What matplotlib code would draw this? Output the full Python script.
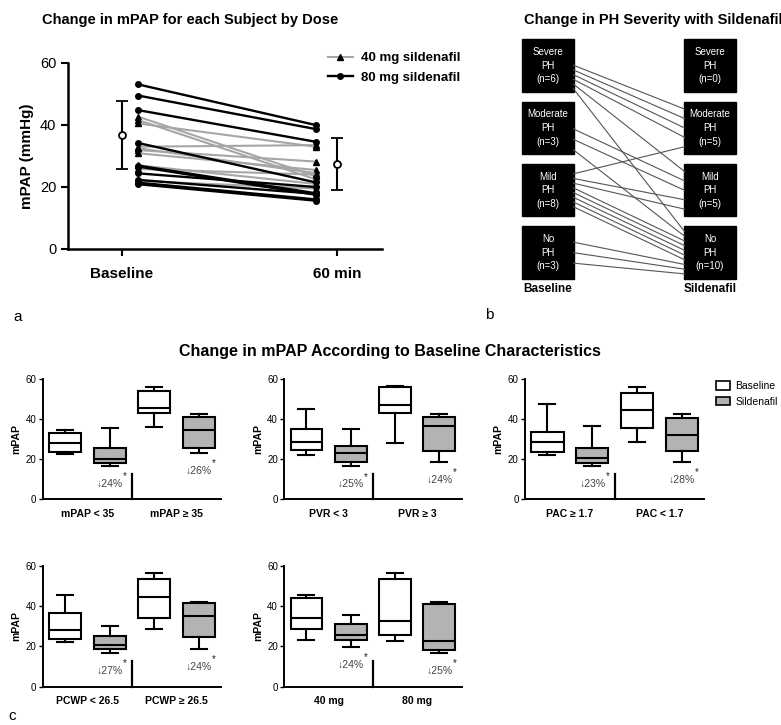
import matplotlib
matplotlib.use('Agg')
import matplotlib.pyplot as plt
import numpy as np
from matplotlib.patches import Rectangle, Patch
from matplotlib.lines import Line2D

plt.rcParams['font.family'] = ['Liberation Sans', 'DejaVu Sans']

W, H = 781, 725

# --- panel a: individual subjects, baseline -> 60 min ---
TIMEPOINTS = ['Baseline', '60 min']
DOSE80_BASE = [53.1, 49.5, 44.8, 34.2, 26.9, 26.6, 24.4, 22.3, 21.4, 20.9]
DOSE80_POST = [40.0, 38.7, 34.6, 21.5, 18.0, 17.5, 20.0, 17.8, 16.0, 15.6]
DOSE40_BASE = [42.7, 41.6, 40.5, 33.0, 31.9, 30.9, 32.5, 25.8, 22.0, 27.0]
DOSE40_POST = [23.5, 22.5, 33.0, 33.5, 28.2, 25.5, 24.5, 24.0, 19.5, 21.0]
GROUP_MEAN = [36.8, 27.4]
GROUP_SD = [11.1, 8.4]

# --- panel b: PH severity transitions ---
SEVERITY = ['Severe', 'Moderate', 'Mild', 'No']
N_BASE = [6, 3, 8, 3]
N_SILD = [0, 5, 5, 10]
TRANS_FROM = ['Severe', 'Severe', 'Severe', 'Moderate', 'Moderate', 'Mild', 'Mild', 'Mild', 'No']
TRANS_TO = ['Moderate', 'Mild', 'No', 'Mild', 'No', 'Moderate', 'Mild', 'No', 'No']
TRANS_N = [4, 1, 1, 2, 1, 1, 2, 5, 3]

# --- panel c: box plots (order: base g1, sild g1, base g2, sild g2) ---
GROUP_LABELS = [['mPAP < 35', 'mPAP ≥ 35'], ['PVR < 3', 'PVR ≥ 3'], ['PAC ≥ 1.7', 'PAC < 1.7'],
                ['PCWP < 26.5', 'PCWP ≥ 26.5'], ['40 mg', '80 mg']]
BOX_WHISLO = [[22.5, 16.7, 36.3, 23.3], [22.0, 16.5, 28.0, 18.8], [22.2, 16.7, 28.5, 18.7],
              [22.3, 17.0, 28.5, 18.8], [23.3, 19.7, 22.5, 17.0]]
BOX_Q1 = [[23.8, 18.3, 43.0, 25.8], [24.7, 18.8, 43.3, 24.2], [23.5, 18.3, 35.8, 24.2],
          [23.7, 18.7, 34.0, 24.8], [28.5, 23.3, 25.5, 18.3]]
BOX_MED = [[28.3, 20.3, 45.5, 34.7], [28.7, 23.0, 47.2, 36.7], [28.5, 20.8, 44.5, 32.2],
           [28.3, 20.7, 44.5, 35.0], [34.3, 25.7, 32.5, 22.5]]
BOX_Q3 = [[33.1, 25.5, 54.2, 41.0], [35.2, 26.5, 56.0, 41.3], [33.5, 25.5, 53.3, 40.8],
          [36.7, 25.0, 53.3, 41.7], [44.0, 31.3, 53.3, 41.2]]
BOX_WHISHI = [[34.6, 35.5, 56.3, 42.5], [45.0, 35.2, 56.7, 42.5], [47.5, 36.8, 56.3, 42.5],
              [45.7, 30.0, 56.3, 42.3], [45.7, 35.5, 56.3, 42.3]]
PCT_DROP = [[24, 26], [25, 24], [23, 28], [27, 24], [24, 25]]


def rect(l, t, r, b):
    return [l / W, 1 - b / H, (r - l) / W, (b - t) / H]


fig = plt.figure(figsize=(W / 100, H / 100), dpi=100)

# ================= panel a =================
ax = fig.add_axes(rect(68, 63, 382, 249))
xl = [0.075, 0.9]
for b, p in zip(DOSE40_BASE, DOSE40_POST):
    ax.plot(xl, [b, p], color='#a6a6a6', lw=1.5, marker='^', ms=4, mfc='black', mec='black', zorder=2)
for b, p in zip(DOSE80_BASE, DOSE80_POST):
    ax.plot(xl, [b, p], color='black', lw=1.7, marker='o', ms=4, zorder=3)
ax.errorbar([0, 1], GROUP_MEAN, yerr=GROUP_SD, fmt='o', color='black', mfc='white', mec='black',
            ms=5, mew=1.3, capsize=4, elinewidth=1.5, capthick=1.5, zorder=4)
ax.set_xlim(-0.251, 1.209)
ax.set_ylim(0, 60)
ax.set_xticks([0, 1], TIMEPOINTS, fontsize=11, fontweight='bold')
ax.set_yticks([0, 20, 40, 60])
ax.tick_params(axis='y', labelsize=10.5, width=1.5, length=5)
ax.tick_params(axis='x', width=1.5, length=5, pad=8)
ax.set_ylabel('mPAP (mmHg)', fontsize=11, fontweight='bold', labelpad=4)
for s in ['top', 'right']:
    ax.spines[s].set_visible(False)
for s in ['left', 'bottom']:
    ax.spines[s].set_linewidth(1.8)

hdl = [Line2D([], [], color='#a6a6a6', lw=1.5, marker='^', ms=4, mfc='black', mec='black'),
       Line2D([], [], color='black', lw=1.7, marker='o', ms=4)]
fig.legend(hdl, ['40 mg sildenafil', '80 mg sildenafil'], loc='center left',
           bbox_to_anchor=(316 / W, 1 - 68 / H), frameon=False, handlelength=1.9,
           handletextpad=0.6, labelspacing=0.55, prop={'weight': 'bold', 'size': 9.5})

fig.text(190 / W, 1 - 20 / H, 'Change in mPAP for each Subject by Dose', ha='center', va='center',
         fontsize=10.5, fontweight='bold')
fig.text(13 / W, 1 - 317 / H, 'a', fontsize=11, va='center')

# ================= panel b =================
axb = fig.add_axes(rect(499.4, 28.1, 758.6, 290.1))
axb.set_xlim(-0.3, 1.3)
axb.set_ylim(3.6, -0.6)
axb.axis('off')
bw, bh = 0.315, 0.84
for col, counts in enumerate([N_BASE, N_SILD]):
    for r, (name, n) in enumerate(zip(SEVERITY, counts)):
        axb.add_patch(Rectangle((col - bw / 2, r - bh / 2), bw, bh, color='black'))
        axb.text(col, r, f'{name}\nPH\n(n={n})', color='white', ha='center', va='center',
                 fontsize=7, linespacing=1.45)
axb.text(0, 3.58, 'Baseline', ha='center', va='center', fontsize=8.5, fontweight='bold')
axb.text(1, 3.58, 'Sildenafil', ha='center', va='center', fontsize=8.5, fontweight='bold')

# expand transitions into individual lines
idx = {s: i for i, s in enumerate(SEVERITY)}
links = []
for f, t, n in zip(TRANS_FROM, TRANS_TO, TRANS_N):
    links += [(idx[f], idx[t])] * n
exit_y, arr_y = {}, {}
for r in range(4):
    mine = sorted([k for k, l in enumerate(links) if l[0] == r], key=lambda k: links[k][1])
    n = len(mine)
    step = 0.09 if n > 3 else 0.2
    shift = 0.22 if r in (0, 1) else 0.0
    for j, k in enumerate(mine):
        exit_y[k] = r + shift * bh + (j - (n - 1) / 2) * step * bh
for r in range(4):
    mine = sorted([k for k, l in enumerate(links) if l[1] == r], key=lambda k: (links[k][0], exit_y[k]))
    n = len(mine)
    step = min(0.18, 0.9 / max(n, 1))
    for j, k in enumerate(mine):
        arr_y[k] = r + (j - (n - 1) / 2) * step * bh
for k in range(len(links)):
    axb.plot([bw / 2, 1 - bw / 2], [exit_y[k], arr_y[k]], color='#555555', lw=0.8)

fig.text(524 / W, 1 - 20 / H, 'Change in PH Severity with Sildenafil', ha='left', va='center',
         fontsize=10.5, fontweight='bold')
fig.text(485 / W, 1 - 315 / H, 'b', fontsize=11, va='center')

# ================= panel c =================
fig.text(390 / W, 1 - 352 / H, 'Change in mPAP According to Baseline Characteristics',
         ha='center', va='center', fontsize=11.5, fontweight='bold')
fig.text(8 / W, 1 - 716 / H, 'c', fontsize=11, va='center')

panel_rects = [rect(42.7, 379.3, 221, 499.3), rect(284.3, 379.3, 461.5, 499.3),
               rect(525, 379.3, 704.3, 499.3), rect(42.7, 566, 221, 686.7),
               rect(284.3, 566, 461.5, 686.7)]
fills = ['white', '#b3b3b3', 'white', '#b3b3b3']
for i, rc in enumerate(panel_rects):
    axc = fig.add_axes(rc)
    stats = [dict(whislo=BOX_WHISLO[i][j], q1=BOX_Q1[i][j], med=BOX_MED[i][j],
                  q3=BOX_Q3[i][j], whishi=BOX_WHISHI[i][j]) for j in range(4)]
    bp = axc.bxp(stats, positions=[1, 2, 3, 4], widths=0.72, showfliers=False, patch_artist=True,
                 boxprops=dict(lw=1.5, edgecolor='black'), medianprops=dict(color='black', lw=1.5),
                 whiskerprops=dict(lw=1.5), capprops=dict(lw=1.5))
    for patch, fc in zip(bp['boxes'], fills):
        patch.set_facecolor(fc)
    axc.plot([2.5, 2.5], [0, 12.6], color='black', lw=1.6, clip_on=False)
    for g, pos in enumerate([2, 4]):
        y = BOX_WHISLO[i][pos - 1] - 9
        axc.text(pos, y, f'↓{PCT_DROP[i][g]}%', ha='center', va='center', fontsize=7.5, color='#444444')
        axc.text(pos + 0.34, y + 3.8, '*', ha='center', va='center', fontsize=7, color='#222222')
    axc.set_xlim(0.5, 4.5)
    axc.set_ylim(0, 60)
    axc.set_yticks([0, 20, 40, 60])
    axc.set_xticks([1.5, 3.5], GROUP_LABELS[i], fontsize=7.5, fontweight='bold')
    axc.tick_params(axis='x', length=0, pad=7)
    axc.tick_params(axis='y', labelsize=7, width=1, length=3, pad=1.5)
    axc.set_ylabel('mPAP', fontsize=7.5, fontweight='bold', labelpad=3)
    for s in ['top', 'right']:
        axc.spines[s].set_visible(False)
    for s in ['left', 'bottom']:
        axc.spines[s].set_linewidth(1.4)

fig.legend([Patch(facecolor='white', edgecolor='black', lw=1.2),
            Patch(facecolor='#b3b3b3', edgecolor='black', lw=1.2)],
           ['Baseline', 'Sildenafil'], loc='upper left', bbox_to_anchor=(707 / W, 1 - 372 / H),
           frameon=False, fontsize=7.5, handlelength=1.3, handleheight=0.9, handletextpad=0.5,
           labelspacing=0.5)

fig.savefig('out.png', dpi=100)
